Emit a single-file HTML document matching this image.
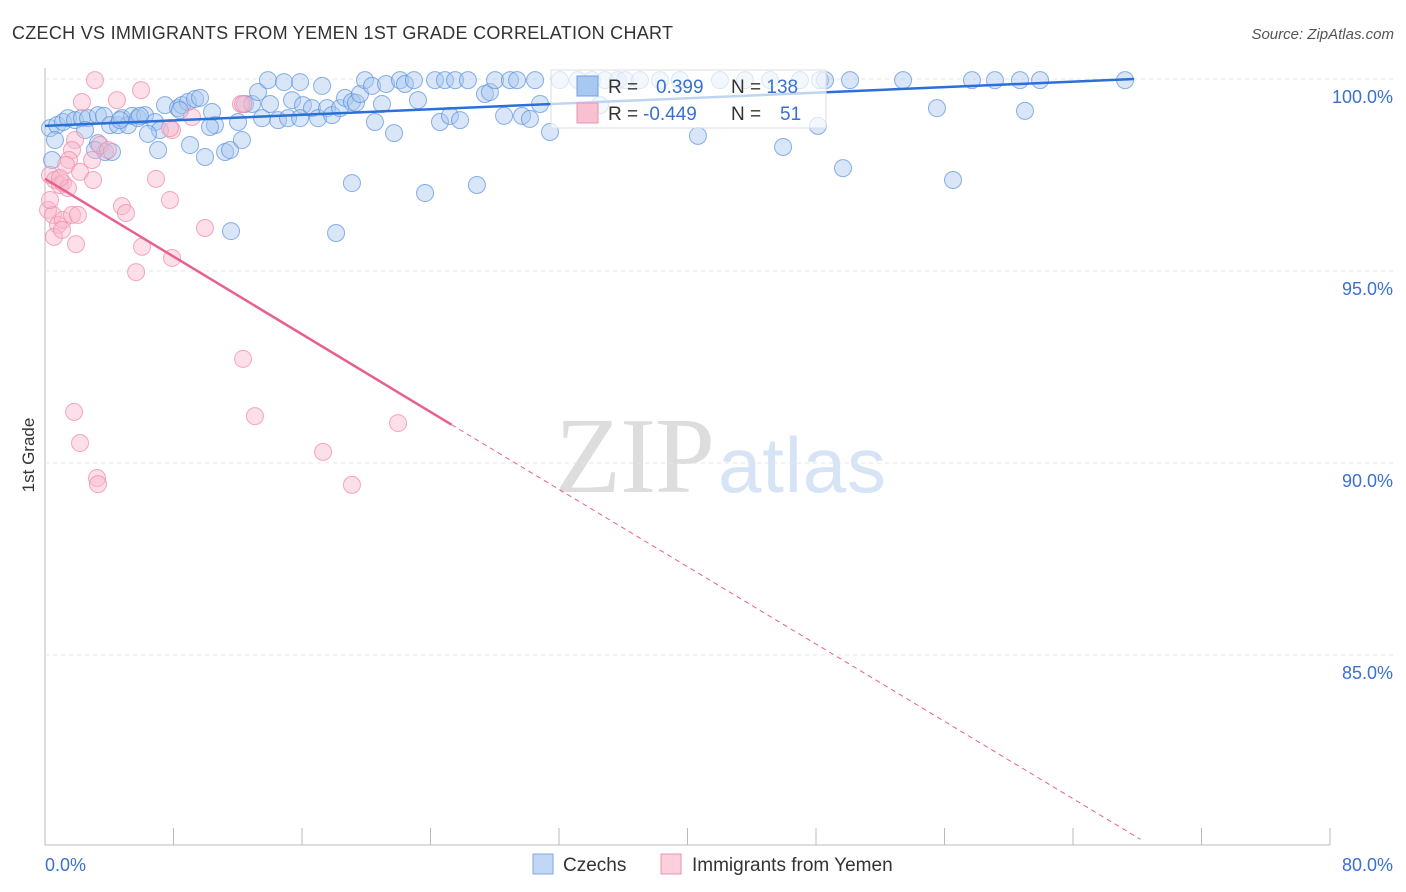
<!DOCTYPE html>
<html><head><meta charset="utf-8"><style>
body{margin:0;background:#fff;font-family:"Liberation Sans",sans-serif}
svg{display:block}
</style></head><body>
<svg id="c" width="1406" height="892">
<text x="12" y="39" font-size="18" fill="#333" textLength="661">CZECH VS IMMIGRANTS FROM YEMEN 1ST GRADE CORRELATION CHART</text>
<text x="1394" y="39" font-size="15" fill="#555" font-style="italic" text-anchor="end">Source: ZipAtlas.com</text>
<text x="34" y="455" font-size="17" fill="#333" transform="rotate(-90 34 455)" text-anchor="middle">1st Grade</text>
<text x="555" y="492" font-size="108" fill="#ddd" textLength="160" font-family="Liberation Serif,serif">ZIP</text>
<text x="718" y="492" font-size="78" fill="#d6e4f5" textLength="168">atlas</text>
<g id="grid"></g><g id="pts"></g><g id="lines"></g>
<g>
<rect x="551" y="70" width="275" height="58" fill="#fff" fill-opacity="0.7" stroke="#ddd"/>
<rect x="577" y="76" width="21" height="20" fill="#a8c8f0" stroke="#6fa0e0"/>
<rect x="577" y="103" width="21" height="20" fill="#f8c0d0" stroke="#f090b0"/>
<text x="608" y="93" font-size="19" fill="#333">R = <tspan fill="#3a70d0" x="656">0.399</tspan><tspan x="731" fill="#333">N = </tspan><tspan fill="#3a70d0">138</tspan></text>
<text x="608" y="120" font-size="19" fill="#333">R = <tspan fill="#3a70d0" x="643">-0.449</tspan><tspan x="731" fill="#333">N = </tspan><tspan fill="#3a70d0" x="780">51</tspan></text>
</g>
<g>
<rect x="533" y="854" width="20" height="20" fill="#c0d8f5" stroke="#7fa8e0"/>
<text x="563" y="871" font-size="19" fill="#333">Czechs</text>
<rect x="661" y="854" width="20" height="20" fill="#fbd0dc" stroke="#f090b0"/>
<text x="692" y="871" font-size="19" fill="#333">Immigrants from Yemen</text>
</g>
</svg>
<script>
const yTicks=[100,95,90,85];
const xTickVals=[0,8,16,24,32,40,48,56,64,72,80];
const bluePx=[[50,128],[57,125],[63,122],[68,118],[75,120],[82,118],[88,118],[55,140],[52,160],[98,115],[104,116],[110,125],[118,125],[122,118],[128,125],[132,116],[138,118],[145,115],[155,122],[160,130],[165,105],[178,108],[182,105],[188,102],[195,99],[200,98],[212,112],[215,125],[190,145],[205,157],[225,152],[230,150],[242,140],[238,122],[245,104],[252,104],[258,92],[268,80],[270,104],[278,120],[284,82],[288,118],[292,100],[300,82],[303,105],[312,108],[318,118],[322,86],[327,108],[332,115],[340,108],[345,98],[352,102],[356,103],[360,94],[365,80],[372,86],[375,122],[382,104],[386,84],[394,133],[400,80],[405,84],[414,80],[418,100],[425,193],[435,80],[440,122],[445,80],[450,116],[455,80],[460,120],[468,80],[477,185],[485,94],[490,92],[495,80],[504,116],[510,80],[517,80],[522,116],[530,119],[535,80],[540,104],[550,132],[560,80],[578,80],[592,80],[605,80],[618,80],[625,80],[640,80],[660,80],[680,80],[698,136],[720,80],[745,80],[770,80],[783,147],[800,80],[820,80],[825,80],[843,168],[850,80],[903,80],[937,108],[953,180],[972,80],[995,80],[1020,80],[1025,111],[1040,80],[1125,80],[352,183],[336,233],[231,231],[818,126],[600,105],[180,110],[210,127],[262,118],[300,118],[120,120],[140,116],[148,134],[105,152],[112,152],[158,150],[98,143],[85,130],[95,150]];
const pinkPx=[[95,80],[141,90],[82,102],[117,100],[192,117],[241,104],[172,130],[100,145],[108,150],[75,140],[72,150],[69,160],[66,165],[80,172],[93,180],[50,175],[55,180],[60,185],[63,183],[68,188],[48,210],[53,215],[58,225],[63,220],[72,215],[78,215],[122,206],[126,213],[170,200],[205,228],[142,247],[172,258],[136,272],[54,237],[62,230],[76,244],[243,359],[255,416],[74,412],[80,443],[97,478],[98,484],[323,452],[352,485],[398,423],[92,160],[156,179],[170,128],[60,178],[50,200],[243,104]];
const czechX=bluePx.map(p=>+((p[0]-45)*80/1285).toFixed(2));
const czechY=bluePx.map(p=>+(100-(p[1]-79)*5/192).toFixed(2));
const yemenX=pinkPx.map(p=>+((p[0]-45)*80/1285).toFixed(2));
const yemenY=pinkPx.map(p=>+(100-(p[1]-79)*5/192).toFixed(2));
const czechTrend=[[0,98.78],[67.8,100]];
const yemenTrend=[[0,97.4],[25.3,91.0],[68.2,80.2]];
const X=v=>45+v*1285/80, Y=v=>79+(100-v)*192/5;
const NS="http://www.w3.org/2000/svg";
function mk(t,a,p){const e=document.createElementNS(NS,t);for(const k in a)e.setAttribute(k,a[k]);p.appendChild(e);return e;}
const g=document.getElementById('grid');
const ax=mk('line',{x1:45,y1:68,x2:45,y2:845,stroke:'#bbb'},g);


const bx=mk('line',{x1:45,y1:845,x2:1330,y2:845,stroke:'#bbb'},g);


yTicks.forEach(v=>{const l=mk('line',{x1:45,x2:1395,y1:Y(v),y2:Y(v),stroke:'#e6e6e6','stroke-dasharray':'4,4'},g);


const t=mk('text',{x:1393,y:Y(v)+24,'font-size':18,fill:'#3a70d0','text-anchor':'end'},g);t.textContent=v.toFixed(1)+'%';

});
xTickVals.forEach(v=>{const l=mk('line',{x1:X(v),x2:X(v),y1:828,y2:845,stroke:'#bbb'},g);

});
[[0,'0.0%','start',45],[80,'80.0%','end',1393]].forEach(a=>{const t=mk('text',{x:a[3],y:871,'font-size':18,fill:'#3a70d0','text-anchor':a[2]},g);t.textContent=a[1];

});
const P=document.getElementById('pts');
czechX.forEach((x,i)=>{const c=mk('circle',{cx:X(x),cy:Y(czechY[i]),r:8.5,fill:'#a8c8f0','fill-opacity':0.45,stroke:'#5a90dc','stroke-opacity':0.7},P);

});
yemenX.forEach((x,i)=>{const c=mk('circle',{cx:X(x),cy:Y(yemenY[i]),r:8.5,fill:'#f8b8cc','fill-opacity':0.45,stroke:'#f08cac','stroke-opacity':0.75},P);

});
const L=document.getElementById('lines');
const bl=mk('line',{x1:X(czechTrend[0][0]),y1:Y(czechTrend[0][1]),x2:X(czechTrend[1][0]),y2:Y(czechTrend[1][1]),stroke:'#2a70d8','stroke-width':2.5},L);


const pl=mk('line',{x1:X(yemenTrend[0][0]),y1:Y(yemenTrend[0][1]),x2:X(yemenTrend[1][0]),y2:Y(yemenTrend[1][1]),stroke:'#e8608c','stroke-width':2.5},L);


const pd=mk('line',{x1:X(yemenTrend[1][0]),y1:Y(yemenTrend[1][1]),x2:X(yemenTrend[2][0]),y2:Y(yemenTrend[2][1]),stroke:'#e8608c','stroke-width':1,'stroke-dasharray':'5,4'},L);


</script>
</body></html>
